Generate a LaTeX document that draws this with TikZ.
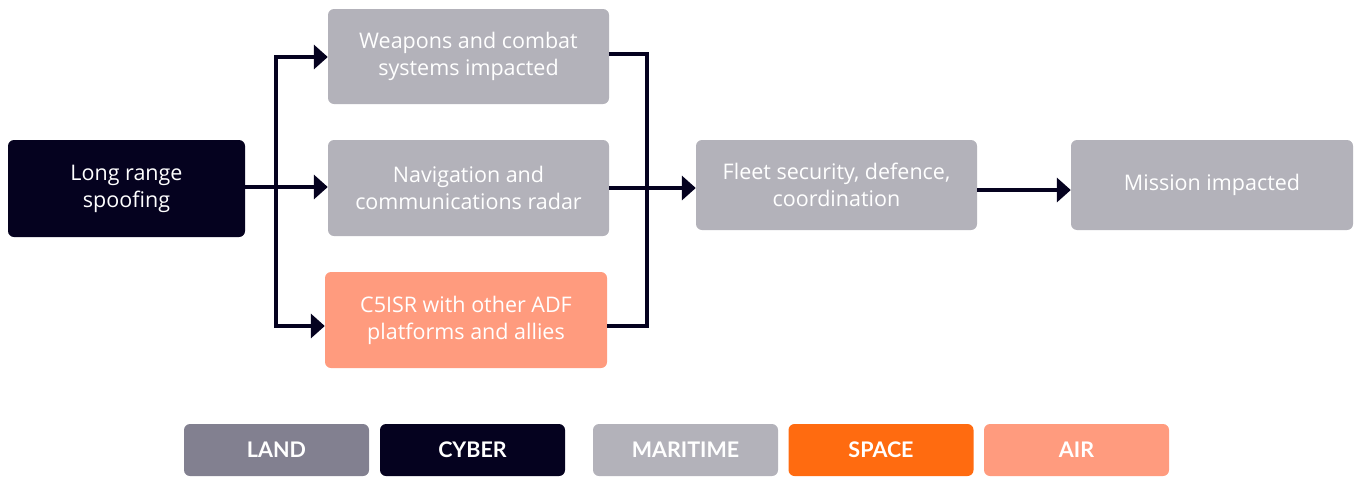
\documentclass[tikz,border=0pt]{standalone}
\usepackage{fontspec}
\setmainfont{Open Sans}
\newfontfamily\legendfont{Lato}
\usetikzlibrary{arrows.meta}
\definecolor{navy}{HTML}{05021F}
\definecolor{greybox}{HTML}{B3B2BA}
\definecolor{salmon}{HTML}{FF9B7E}
\definecolor{landgrey}{HTML}{828090}
\definecolor{spaceorange}{HTML}{FF6B10}
\tikzset{
  box/.style={rounded corners=6pt, inner sep=0pt, text=white, align=center,
    font=\fontsize{21.5}{27}\selectfont},
  legend/.style={rounded corners=6pt, inner sep=0pt, text=white,
    minimum width=185pt, minimum height=52pt, font=\legendfont\bfseries\fontsize{21.5}{24}\selectfont},
  link/.style={line width=4pt, draw=navy},
  arr/.style={link, -{Triangle[length=14pt,width=24pt]}},
}
\begin{document}
\begin{tikzpicture}[x=1pt,y=-1pt]
\useasboundingbox (0,0) rectangle (1359,477);
% flow boxes
\node[box, fill=navy, minimum width=237pt, minimum height=97pt] (src) at (126.5,188.5) {Long range\\spoofing};
\node[box, fill=greybox, minimum width=281pt, minimum height=95pt] (wpn) at (468.5,56.5) {Weapons and combat\\systems impacted};
\node[box, fill=greybox, minimum width=281pt, minimum height=96pt] (nav) at (468.5,188) {Navigation and\\communications radar};
\node[box, fill=salmon, minimum width=282pt, minimum height=96pt] (c5) at (466,320) {C5ISR with other ADF\\platforms and allies};
\node[box, fill=greybox, minimum width=281pt, minimum height=90pt] (flt) at (836.5,185) {Fleet security, defence,\\coordination};
\node[box, fill=greybox, minimum width=282pt, minimum height=90pt] (msn) at (1212,185) {Mission impacted};
% fan-out and fan-in buses
\coordinate (splitTop) at (276,57);
\coordinate (splitMid) at (276,187);
\coordinate (splitBot) at (276,326);
\coordinate (joinTop) at (647,54);
\coordinate (joinBot) at (647,326);
\draw[link] (src.east |- splitMid) -- (splitMid);
\draw[link] (splitTop) -- (splitBot);
\draw[arr] ([xshift=-2pt]splitTop) -- (wpn.west |- splitTop);
\draw[arr] (splitMid) -- (nav.west |- splitMid);
\draw[arr] ([xshift=-2pt]splitBot) -- (c5.west |- splitBot);
\draw[link] (wpn.east |- joinTop) -- ([xshift=2pt]joinTop);
\draw[link] (c5.east |- joinBot) -- ([xshift=2pt]joinBot);
\draw[link] (joinTop) -- (joinBot);
\draw[arr] (nav.east |- 0,188) -- (flt.west |- 0,188);
\draw[arr] (flt.east |- 0,190) -- (msn.west |- 0,190);
% legend
\node[legend, fill=landgrey] (land) at (276.5,450) {LAND};
\node[legend, fill=navy] (cyber) at (472.5,450) {CYBER};
\node[legend, fill=greybox] (mar) at (685.5,450) {MARITIME};
\node[legend, fill=spaceorange] (space) at (881,450) {SPACE};
\node[legend, fill=salmon] (air) at (1076.5,450) {AIR};
\end{tikzpicture}
\end{document}
